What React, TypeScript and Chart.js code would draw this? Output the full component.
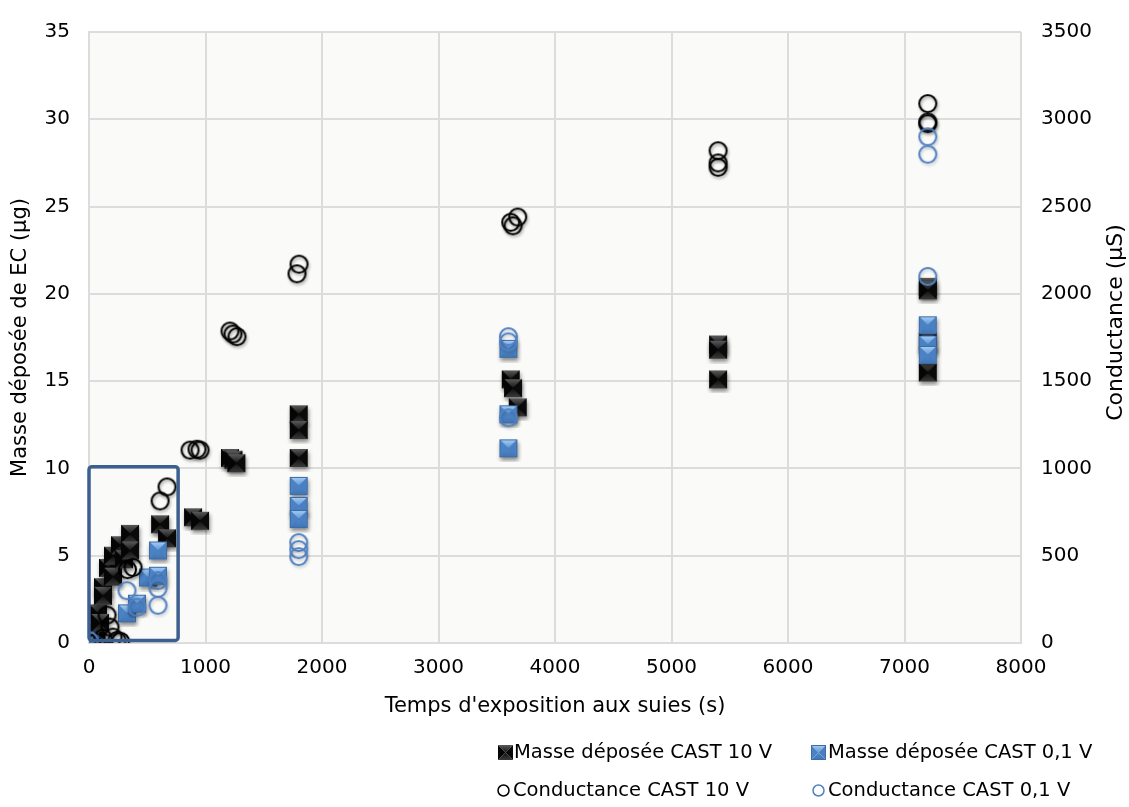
import React, { useEffect, useRef } from "react";
import { Chart, registerables } from "chart.js";

Chart.register(...registerables);

const FONT = "'DejaVu Sans', sans-serif";

// ---- Data ----
const masse10X = [0, 15, 30, 60, 77, 94, 120, 120, 163, 206, 206, 266, 300, 352, 352, 610, 670, 893, 953, 1210, 1240, 1265, 1800, 1800, 1800, 3620, 3640, 3680, 5400, 5400, 5400, 7200, 7200, 7200, 7200];
const masse10Y = [0, 0.1, 0.3, 0.8, 1.7, 1.15, 3.2, 2.7, 4.3, 5.0, 3.8, 5.6, 4.8, 6.25, 5.3, 6.8, 6.0, 7.2, 7.0, 10.6, 10.5, 10.3, 13.1, 12.2, 10.6, 15.1, 14.6, 13.5, 17.1, 16.8, 15.1, 20.4, 20.2, 17.3, 15.5];

const masse01X = [0, 10, 326, 412, 506, 592, 592, 1800, 1800, 1800, 3600, 3600, 3600, 7200, 7200, 7200];
const masse01Y = [0, 0.1, 1.7, 2.25, 3.75, 3.85, 5.3, 9.0, 7.85, 7.1, 16.85, 13.1, 11.15, 18.2, 17.1, 16.5];

const cond10X = [0, 60, 120, 155, 180, 206, 240, 270, 330, 378, 610, 670, 867, 927, 953, 1210, 1236, 1270, 1785, 1803, 3620, 3640, 3680, 5400, 5400, 5400, 7200, 7200, 7200];
const cond10Y = [0, 5, 28, 160, 91, 34, 15, 10, 420, 433, 814, 894, 1105, 1110, 1105, 1787, 1770, 1755, 2115, 2170, 2410, 2390, 2440, 2820, 2750, 2725, 3090, 2985, 2975];

const cond01X = [0, 326, 412, 592, 592, 592, 1800, 1800, 1800, 3600, 3600, 3600, 7200, 7200, 7200];
const cond01Y = [15, 300, 205, 358, 313, 216, 575, 535, 495, 1755, 1725, 1290, 2900, 2800, 2100];

const seriesLabels = [
  "Masse déposée CAST 10 V",
  "Masse déposée CAST 0,1 V",
  "Conductance CAST 10 V",
  "Conductance CAST 0,1 V",
];

const xTitle = "Temps d'exposition aux suies (s)";
const yTitle = "Masse déposée de EC (µg)";
const y2Title = "Conductance (µS)";

// highlighted zone (data units)
const zoneX = [0, 765];
const zoneY = [0.15, 10.1];

const toPoints = (xs: number[], ys: number[]) => xs.map((x, i) => ({ x, y: ys[i] }));

type Kind = "black" | "blue";

function makeSquare(kind: Kind, size: number, shadow: boolean): HTMLCanvasElement {
  const pad = shadow ? 5 : 1;
  const dim = size + pad * 2;
  const cv = document.createElement("canvas");
  cv.width = dim;
  cv.height = dim;
  const ctx = cv.getContext("2d")!;
  const c = dim / 2;
  const h = size / 2;
  const l = c - h, r = c + h, t = c - h, b = c + h;
  if (shadow) {
    ctx.save();
    ctx.shadowColor = "rgba(0,0,0,0.45)";
    ctx.shadowBlur = 4;
    ctx.shadowOffsetX = 1;
    ctx.shadowOffsetY = 3;
    ctx.fillStyle = kind === "black" ? "#000" : "#3c6fae";
    ctx.fillRect(l, t, size, size);
    ctx.restore();
  }
  const tri = (pts: number[][], fill: string | CanvasGradient) => {
    ctx.beginPath();
    ctx.moveTo(pts[0][0], pts[0][1]);
    ctx.lineTo(pts[1][0], pts[1][1]);
    ctx.lineTo(pts[2][0], pts[2][1]);
    ctx.closePath();
    ctx.fillStyle = fill;
    ctx.fill();
  };
  const gTop = ctx.createLinearGradient(0, t, 0, c);
  const gBot = ctx.createLinearGradient(0, b, 0, c);
  if (kind === "black") {
    gTop.addColorStop(0, "#5a5a5a");
    gTop.addColorStop(1, "#151515");
    gBot.addColorStop(0, "#3a3a3a");
    gBot.addColorStop(1, "#101010");
    tri([[l, t], [r, t], [c, c]], gTop);
    tri([[l, b], [r, b], [c, c]], gBot);
    tri([[l, t], [l, b], [c, c]], "#050505");
    tri([[r, t], [r, b], [c, c]], "#0a0a0a");
  } else {
    gTop.addColorStop(0, "#a9d0f5");
    gTop.addColorStop(1, "#5b95d8");
    gBot.addColorStop(0, "#3f73b3");
    gBot.addColorStop(1, "#5389c9");
    tri([[l, t], [r, t], [c, c]], gTop);
    tri([[l, b], [r, b], [c, c]], gBot);
    tri([[l, t], [l, b], [c, c]], "#4a82c4");
    tri([[r, t], [r, b], [c, c]], "#4a80c1");
    ctx.strokeStyle = "#3d6ca6";
    ctx.lineWidth = 1;
    ctx.strokeRect(l + 0.5, t + 0.5, size - 1, size - 1);
  }
  return cv;
}

function makeCircle(kind: Kind, radius: number, lw: number, shadow: boolean): HTMLCanvasElement {
  const pad = shadow ? 6 : 2;
  const dim = Math.ceil(radius * 2 + pad * 2);
  const cv = document.createElement("canvas");
  cv.width = dim;
  cv.height = dim;
  const ctx = cv.getContext("2d")!;
  const c = dim / 2;
  ctx.save();
  if (shadow) {
    ctx.shadowColor = kind === "black" ? "rgba(0,0,0,0.35)" : "rgba(0,0,0,0.2)";
    ctx.shadowBlur = 3;
    ctx.shadowOffsetX = 1;
    ctx.shadowOffsetY = 2;
  }
  ctx.beginPath();
  ctx.arc(c, c, radius, 0, Math.PI * 2);
  ctx.strokeStyle = kind === "black" ? "#000000" : "#4f81c4";
  ctx.lineWidth = lw;
  ctx.stroke();
  ctx.restore();
  return cv;
}

const plain = (v: any) => String(v);

export default function App() {
  const ref = useRef<HTMLCanvasElement | null>(null);

  useEffect(() => {
    document.body.style.margin = "0";
    const canvas = ref.current;
    if (!canvas) return;

    const sqBlack = makeSquare("black", 18, true);
    const sqBlue = makeSquare("blue", 18, true);
    const ciBlack = makeCircle("black", 8.5, 2, true);
    const ciBlue = makeCircle("blue", 8.5, 2, true);
    const legSqBlack = makeSquare("black", 15, false);
    const legSqBlue = makeSquare("blue", 15, false);
    const legCiBlack = makeCircle("black", 5.5, 1.5, false);
    const legCiBlue = makeCircle("blue", 5.5, 1.5, false);

    const bgPlugin = {
      id: "plotBg",
      beforeDraw(chart: any) {
        const { ctx, chartArea } = chart;
        ctx.save();
        ctx.fillStyle = "#ffffff";
        ctx.fillRect(0, 0, chart.width, chart.height);
        ctx.fillStyle = "#fafaf9";
        ctx.fillRect(chartArea.left, chartArea.top, chartArea.right - chartArea.left, chartArea.bottom - chartArea.top);
        ctx.restore();
      },
    };

    const zonePlugin = {
      id: "zone",
      afterDatasetsDraw(chart: any) {
        const { ctx, scales } = chart;
        const x0 = scales.x.getPixelForValue(zoneX[0]);
        const x1 = scales.x.getPixelForValue(zoneX[1]);
        const y0 = scales.y.getPixelForValue(zoneY[1]);
        const y1 = scales.y.getPixelForValue(zoneY[0]);
        ctx.save();
        ctx.strokeStyle = "#3b5f8f";
        ctx.lineWidth = 3.5;
        ctx.lineJoin = "round";
        ctx.beginPath();
        if ((ctx as any).roundRect) (ctx as any).roundRect(x0, y0, x1 - x0, y1 - y0, 3);
        else ctx.rect(x0, y0, x1 - x0, y1 - y0);
        ctx.stroke();
        ctx.restore();
      },
    };

    const extrasPlugin = {
      id: "extras",
      afterDraw(chart: any) {
        const { ctx, chartArea } = chart;
        ctx.save();
        // right axis title (reads bottom to top)
        ctx.font = `22px ${FONT}`;
        ctx.fillStyle = "#000";
        ctx.textAlign = "center";
        ctx.textBaseline = "middle";
        ctx.translate(1116, (chartArea.top + chartArea.bottom) / 2 - 15);
        ctx.rotate(-Math.PI / 2);
        ctx.fillText(y2Title, 0, 0);
        ctx.restore();

        // legend
        ctx.save();
        ctx.font = `19.5px ${FONT}`;
        ctx.fillStyle = "#000";
        ctx.textAlign = "left";
        ctx.textBaseline = "middle";
        const items = [
          { img: legSqBlack, cx: 505, cy: 752, tx: 514, label: seriesLabels[0] },
          { img: legSqBlue, cx: 818, cy: 752, tx: 828, label: seriesLabels[1] },
          { img: legCiBlack, cx: 503, cy: 790, tx: 513, label: seriesLabels[2] },
          { img: legCiBlue, cx: 818, cy: 790, tx: 828, label: seriesLabels[3] },
        ];
        for (const it of items) {
          ctx.drawImage(it.img, Math.round(it.cx - it.img.width / 2), Math.round(it.cy - it.img.height / 2));
          ctx.fillText(it.label, it.tx, it.cy + 1);
        }
        ctx.restore();
      },
    };

    const gridColor = "#dcdcdc";

    const chart = new Chart(canvas, {
      type: "scatter",
      data: {
        datasets: [
          { label: seriesLabels[0], data: toPoints(masse10X, masse10Y), yAxisID: "y", pointStyle: sqBlack as any, pointRadius: 9, order: 4 },
          { label: seriesLabels[1], data: toPoints(masse01X, masse01Y), yAxisID: "y", pointStyle: sqBlue as any, pointRadius: 9, order: 3 },
          { label: seriesLabels[2], data: toPoints(cond10X, cond10Y), yAxisID: "y2", pointStyle: ciBlack as any, pointRadius: 9, order: 2 },
          { label: seriesLabels[3], data: toPoints(cond01X, cond01Y), yAxisID: "y2", pointStyle: ciBlue as any, pointRadius: 9, order: 1 },
        ],
      },
      options: {
        responsive: false,
        animation: false,
        events: [],
        layout: { padding: { top: 28, left: 0, right: 0, bottom: 0 } },
        plugins: {
          legend: { display: false },
          tooltip: { enabled: false },
        },
        scales: {
          x: {
            type: "linear",
            min: 0,
            max: 8000,
            ticks: { stepSize: 1000, color: "#000", font: { family: FONT, size: 20 }, padding: 13, callback: plain },
            grid: { color: gridColor, lineWidth: 2, drawTicks: false },
            border: { color: gridColor, width: 2 },
            title: { display: true, text: xTitle, color: "#000", font: { family: FONT, size: 21 }, padding: { top: 0, bottom: 88 } },
            afterFit(scale: any) { scale.height = 164; },
          },
          y: {
            type: "linear",
            position: "left",
            min: 0,
            max: 35,
            ticks: { stepSize: 5, color: "#000", font: { family: FONT, size: 20 }, padding: 19, callback: plain },
            grid: { color: gridColor, lineWidth: 2, drawTicks: false },
            border: { color: gridColor, width: 2 },
            title: { display: true, text: yTitle, color: "#000", font: { family: FONT, size: 21 }, padding: { top: 8, bottom: 0 } },
            afterFit(scale: any) { scale.width = 89; },
          },
          y2: {
            type: "linear",
            position: "right",
            min: 0,
            max: 3500,
            ticks: { stepSize: 500, color: "#000", font: { family: FONT, size: 20 }, padding: 20, callback: plain },
            grid: { display: false, drawTicks: false },
            border: { display: false },
            afterFit(scale: any) { scale.width = 108; },
          },
        },
      } as any,
      plugins: [bgPlugin, zonePlugin, extrasPlugin],
    });

    return () => chart.destroy();
  }, []);

  return (
    <div style={{ width: 1129, height: 807, position: "relative" }}>
      <canvas ref={ref} width={1129} height={807} style={{ display: "block" }} />
    </div>
  );
}
